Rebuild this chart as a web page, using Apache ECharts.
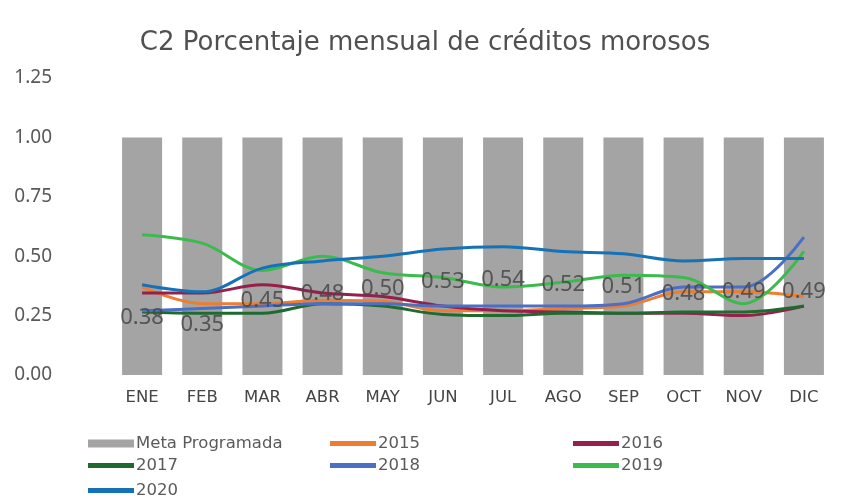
<!DOCTYPE html>
<html>
<head>
<meta charset="utf-8">
<script src="https://cdn.jsdelivr.net/npm/echarts@6/dist/echarts.min.js"></script>
<style>html,body{margin:0;padding:0;background:#fff}#c{width:850px;height:503px}</style>
</head>
<body>
<div id="c"></div>
<script>
const months = ['ENE','FEB','MAR','ABR','MAY','JUN','JUL','AGO','SEP','OCT','NOV','DIC'];
const yTicks = [0, 0.25, 0.5, 0.75, 1.0, 1.25];
const meta = [1,1,1,1,1,1,1,1,1,1,1,1];
const s2015 = [0.37,0.30,0.30,0.315,0.31,0.27,0.27,0.28,0.29,0.35,0.35,0.33];
const s2016 = [0.345,0.345,0.38,0.345,0.33,0.29,0.27,0.265,0.26,0.26,0.25,0.29];
const s2017 = [0.265,0.26,0.26,0.30,0.29,0.255,0.25,0.26,0.26,0.265,0.265,0.29];
const s2018 = [0.27,0.28,0.29,0.30,0.30,0.29,0.29,0.29,0.30,0.37,0.37,0.58];
const s2019 = [0.59,0.555,0.44,0.50,0.43,0.41,0.37,0.39,0.42,0.41,0.30,0.52];
const s2020 = [0.38,0.35,0.45,0.48,0.50,0.53,0.54,0.52,0.51,0.48,0.49,0.49];

const FONT = '"DejaVu Sans", sans-serif';
const FONT2 = '"Noto Sans", sans-serif';
const colors = {
  meta:'#a3a4a3', y2015:'#ed7d31', y2016:'#96204a', y2017:'#1f6a2e',
  y2018:'#4a6fc4', y2019:'#3dba4e', y2020:'#1672b6'
};
function lineSeries(name, data, color, extra){
  return Object.assign({
    name, type:'line', data, smooth:0.35, symbol:'circle', symbolSize:0, showSymbol:true,
    lineStyle:{width:3, color}, itemStyle:{color}, z:3
  }, extra||{});
}
const legendPos = [
  ['Meta Programada', 88, 435],
  ['2015', 330, 435],
  ['2016', 573, 435],
  ['2017', 88, 457],
  ['2018', 330, 457],
  ['2019', 573, 457],
  ['2020', 88, 482]
];
const legends = legendPos.map(([n,x,y]) => ({
  data:[{name:n, icon:'rect'}],
  left:x, top:y, padding:0, itemWidth:46, itemHeight: n.startsWith('Meta') ? 8 : 5, itemGap:2,
  textStyle:{fontFamily:FONT, fontSize:16.5, color:'#5a5a5a', padding:[0,0,0,-3]},
  selectedMode:false
}));

const chart = echarts.init(document.getElementById('c'), null, {renderer:'canvas'});
chart.setOption({
  backgroundColor:'#fff',
  animation:false,
  title:{
    text:'C2 Porcentaje mensual de créditos morosos',
    left:'center', top:25,
    textStyle:{fontFamily:FONT, fontSize:26, fontWeight:'normal', color:'#505050'}
  },
  legend: legends,
  grid:{left:112, right:16, top:78, bottom:128},
  xAxis:{
    type:'category', data:months,
    axisLine:{show:false}, axisTick:{show:false},
    axisLabel:{fontFamily:FONT, fontSize:16.5, color:'#454545', margin:14}
  },
  yAxis:{
    type:'value', min:yTicks[0], max:yTicks[yTicks.length-1], interval:0.25,
    splitLine:{show:false}, axisLine:{show:false}, axisTick:{show:false},
    axisLabel:{fontFamily:FONT2, fontSize:19, color:'#595959', margin:60,
      formatter:v=>v.toFixed(2)}
  },
  series:[
    {name:'Meta Programada', type:'bar', data:meta, barWidth:40,
      itemStyle:{color:colors.meta}, z:1},
    lineSeries('2015', s2015, colors.y2015),
    lineSeries('2016', s2016, colors.y2016),
    lineSeries('2017', s2017, colors.y2017),
    lineSeries('2018', s2018, colors.y2018),
    lineSeries('2019', s2019, colors.y2019),
    lineSeries('2020', s2020, colors.y2020, {
      label:{show:true, position:'bottom', distance:22,
        formatter:p=>p.value.toFixed(2),
        fontFamily:FONT2, fontSize:22, color:'rgba(70,70,70,0.85)'},
      labelLayout:{hideOverlap:false}
    })
  ]
});
</script>
</body>
</html>
